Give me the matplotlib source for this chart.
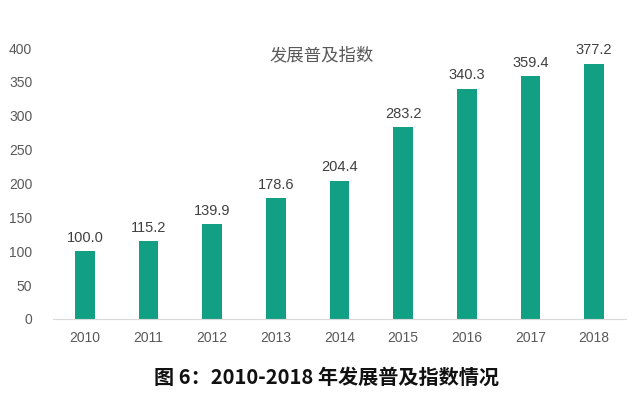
import matplotlib
matplotlib.use("Agg")
import matplotlib.pyplot as plt

plt.rcParams['font.family'] = ['Liberation Sans', 'Noto Sans CJK SC', 'DejaVu Sans']

years = ['2010', '2011', '2012', '2013', '2014', '2015', '2016', '2017', '2018']
values = [100.0, 115.2, 139.9, 178.6, 204.4, 283.2, 340.3, 359.4, 377.2]
yticks = [0, 50, 100, 150, 200, 250, 300, 350, 400]

fig = plt.figure(figsize=(6.4, 4.01), dpi=100)
ax = fig.add_axes([0.083, 0.2045, 0.895, 0.6755])
x = range(len(years))
bars = ax.bar(x, values, width=0.31, color='#12a084')
ax.set_xlim(-0.5, len(years) - 0.5)
ax.set_ylim(0, 400)
ax.set_xticks(list(x))
ax.set_xticklabels(years, fontsize=10, color='#595959')
ax.set_yticks(yticks)
ax.set_yticklabels([str(v) for v in yticks], fontsize=10, color='#595959')
ax.tick_params(axis='both', length=0, pad=9)
ax.tick_params(axis='y', pad=15)
for s in ['top', 'right', 'left']:
    ax.spines[s].set_visible(False)
ax.spines['bottom'].set_color('#d9d9d9')
for xi, v in zip(x, values):
    ax.text(xi, v + 9, f'{v:.1f}', ha='center', va='bottom', fontsize=10.5, color='#404040')

fig.text(322 / 640, 1 - 55 / 401, '发展普及指数', ha='center', va='center', fontsize=12.5,
         color='#595959', family=['Noto Sans CJK SC', 'DejaVu Sans'])
fig.text(327 / 640, 1 - 377 / 401, '图 6：2010-2018 年发展普及指数情况', ha='center', va='center',
         fontsize=14.5, color='#111111', fontweight='bold',
         family=['Noto Sans CJK SC', 'DejaVu Sans'])

fig.savefig('out.png', dpi=100)
